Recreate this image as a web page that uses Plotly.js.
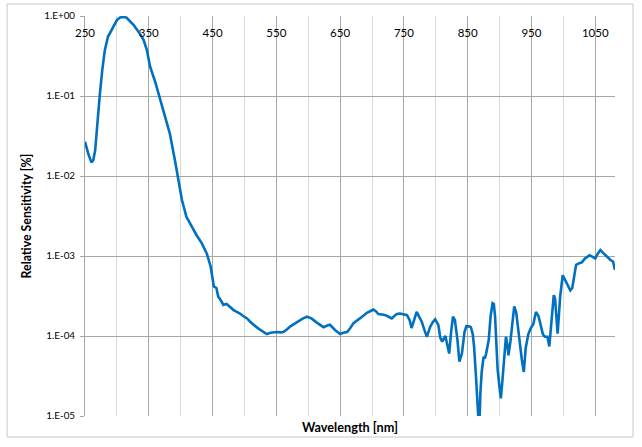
<!DOCTYPE html>
<html>
<head>
<meta charset="utf-8">
<script src="https://cdn.plot.ly/plotly-3.0.1.min.js"></script>
<style>
html,body{margin:0;padding:0;background:#fff;}
#chart{width:642px;height:447px;}
</style>
</head>
<body>
<div id="chart"></div>
<script>
// Wavelength [nm]
var wavelength = [250,255,260,263,266,269,273,277,281,286,294,300,305,308,312,315,326,336,342,347,352,360,368,375,383,391,396,402,409,417,425,433,441,447,450,452,456,459,462,467,472,477,483,488,493,498,504,509,514,519,525,530,535,541,545,551,556,561,566,572,580,587,592,598,605,613,619,624,630,634,642,650,655,661,666,671,681,692,697,702,706,710,716,721,726,731,735,739,744,749,755,759,762,766,770,774,778,782,786,791,795,799,804,807,810,815,818,821,824,827,830,834,837,841,845,848,852,855,858,860,863,866,868,870,872,875,877,879,883,886,889,891,893,895,897,900,902,904,906,908,910,912,914,917,920,923,926,929,932,935,938,941,945,949,953,957,961,964,968,971,975,978,981,985,987,989,991,993,995,999,1003,1007,1011,1014,1017,1020,1025,1029,1034,1041,1046,1050,1054,1058,1062,1066,1070,1074,1078,1081];
// Relative sensitivity
var sensitivity = [0.0269,0.0191,0.0148,0.0158,0.0211,0.0457,0.1,0.209,0.372,0.55,0.741,0.891,0.96,0.975,0.975,0.955,0.776,0.603,0.501,0.376,0.234,0.151,0.0891,0.055,0.0339,0.0158,0.00977,0.00501,0.00309,0.00234,0.00182,0.00145,0.00107,0.000741,0.000501,0.000417,0.000398,0.000309,0.000288,0.000245,0.000251,0.000229,0.000211,0.0002,0.000191,0.000178,0.000166,0.000151,0.000138,0.000129,0.000119,0.000112,0.000106,0.00011,0.000111,0.000112,0.000111,0.000112,0.00012,0.000132,0.000145,0.000158,0.000166,0.000174,0.000166,0.000148,0.000138,0.000129,0.000135,0.000138,0.000119,0.000106,0.00011,0.000112,0.000126,0.000145,0.000166,0.000195,0.000204,0.000214,0.000204,0.000188,0.000186,0.000182,0.000174,0.000166,0.000178,0.000188,0.000191,0.000188,0.000182,0.000158,0.000126,0.000158,0.0002,0.000174,0.000151,0.00012,0.0000977,0.000129,0.000148,0.000162,0.000138,0.0000955,0.0000851,0.0001,0.0000794,0.0000603,0.000112,0.000174,0.000158,0.0000891,0.0000479,0.0000603,0.000112,0.000133,0.000132,0.000129,0.000105,0.0000741,0.0000316,0.0000079,0.0000063,0.00002,0.0000355,0.000055,0.0000525,0.0000603,0.0000891,0.000178,0.000257,0.000251,0.000174,0.0000794,0.000038,0.0000224,0.0000166,0.0000251,0.0000417,0.0000708,0.0000977,0.0000794,0.0000575,0.0000851,0.000158,0.000234,0.0002,0.000126,0.0000741,0.0000501,0.0000355,0.0000708,0.000105,0.000126,0.000141,0.0002,0.000178,0.000145,0.000105,0.0000977,0.0000977,0.0000741,0.000158,0.000324,0.000295,0.000178,0.000107,0.000178,0.000309,0.000575,0.000501,0.000417,0.000372,0.000398,0.000562,0.000776,0.000813,0.000832,0.000933,0.00102,0.000977,0.000933,0.00107,0.00119,0.0011,0.00102,0.000933,0.000891,0.000851,0.000668];
// Tick labels
var yTickVals = [0.00001,0.0001,0.001,0.01,0.1,1];
var yTickText = ["1.E-05","1.E-04","1.E-03","1.E-02","1.E-01","1.E+00"];
var xRange = [250, 1081];

var FONT = 'Lato, "Open Sans", "Liberation Sans", sans-serif';

var trace = {
  x: wavelength,
  y: sensitivity,
  type: 'scatter',
  mode: 'lines',
  line: {color: '#0070C0', width: 2.6, shape: 'linear'},
  hoverinfo: 'x+y'
};
// invisible copy so the label axis (xaxis2) is drawn
var labelTrace = {
  x: wavelength,
  y: sensitivity,
  xaxis: 'x2',
  type: 'scatter',
  mode: 'lines',
  line: {color: 'rgba(0,0,0,0)', width: 0},
  hoverinfo: 'skip',
  showlegend: false
};

var layout = {
  width: 642,
  height: 447,
  margin: {l: 85, r: 27, t: 16, b: 31, pad: 0},
  paper_bgcolor: '#ffffff',
  plot_bgcolor: '#ffffff',
  showlegend: false,
  font: {family: FONT, size: 10, color: '#000000'},
  xaxis: {
    type: 'linear',
    range: xRange,
    tick0: 250,
    dtick: 100,
    ticks: '',
    showticklabels: false,
    showgrid: true,
    gridcolor: '#a6a6a6',
    gridwidth: 1,
    minor: {tick0: 250, dtick: 50, showgrid: true, gridcolor: '#d9d9d9', gridwidth: 1, ticks: ''},
    showline: false,
    zeroline: false,
    fixedrange: true
  },
  xaxis2: {
    type: 'linear',
    overlaying: 'x',
    anchor: 'free',
    position: 0.978,
    side: 'bottom',
    range: xRange,
    tick0: 250,
    dtick: 100,
    ticks: '',
    showgrid: false,
    showline: false,
    zeroline: false,
    tickfont: {family: FONT, size: 11.5, color: '#000'},
    fixedrange: true
  },
  yaxis: {
    type: 'log',
    range: [-5, 0.0005],
    tickmode: 'array',
    tickvals: yTickVals,
    ticktext: yTickText,
    ticks: 'outside',
    ticklen: 4,
    tickcolor: '#a6a6a6',
    ticklabelstandoff: 3,
    tickfont: {family: FONT, size: 9.8, color: '#000'},
    showgrid: true,
    gridcolor: '#a6a6a6',
    gridwidth: 1,
    showline: true,
    linecolor: '#a6a6a6',
    linewidth: 1,
    zeroline: false,
    title: {text: 'Relative Sensitivity [%]', font: {family: FONT, size: 12.3, weight: 'bold', color: '#000'}, standoff: 10},
    fixedrange: true
  },
  annotations: [{
    text: 'Wavelength [nm]',
    xref: 'paper', yref: 'paper',
    x: 0.5, y: -0.0275,
    xanchor: 'center', yanchor: 'middle',
    showarrow: false,
    font: {family: FONT, size: 12.7, weight: 'bold', color: '#000'}
  }],
  shapes: [{
    type: 'rect',
    xref: 'paper', yref: 'paper',
    x0: -0.147, x1: 1.034, y0: -0.0525, y1: 1.03,
    line: {color: '#c8c8c8', width: 1},
    fillcolor: 'rgba(0,0,0,0)',
    layer: 'below'
  }]
};

Plotly.newPlot('chart', [trace, labelTrace], layout, {staticPlot: true, displayModeBar: false});
</script>
</body>
</html>
